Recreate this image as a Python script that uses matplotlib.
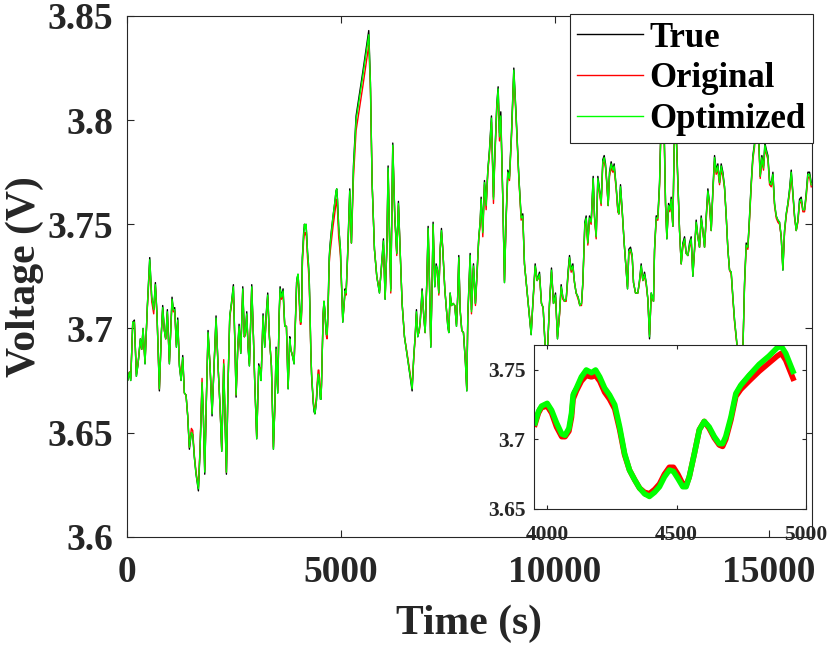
import matplotlib
matplotlib.use("Agg")
import matplotlib.pyplot as plt

plt.rcParams['font.family'] = ['Liberation Serif', 'DejaVu Serif']
plt.rcParams['font.weight'] = 'bold'

# time axis (s) and the three voltage traces (V)
time_s = [
    0, 23, 62, 93, 140, 178, 225, 264, 318, 350,
    381, 427, 482, 537, 583, 630, 669, 708, 762, 809,
    840, 879, 910, 949, 996, 1058, 1089, 1121, 1160, 1191,
    1230, 1269, 1308, 1346, 1385, 1424, 1463, 1510, 1541, 1580,
    1619, 1674, 1713, 1759, 1790, 1822, 1860, 1899, 1946, 1993,
    2040, 2086, 2133, 2180, 2219, 2265, 2297, 2328, 2367, 2406,
    2445, 2491, 2530, 2554, 2593, 2624, 2663, 2710, 2748, 2772,
    2803, 2834, 2865, 2920, 2959, 2990, 3036, 3083, 3114, 3138,
    3184, 3223, 3254, 3293, 3332, 3379, 3426, 3465, 3488, 3527,
    3558, 3582, 3613, 3652, 3691, 3730, 3769, 3808, 3831, 3870,
    3909, 3953, 3966, 3978, 4000, 4017, 4036, 4056, 4069, 4084,
    4094, 4100, 4113, 4132, 4151, 4171, 4187, 4203, 4222, 4241,
    4261, 4280, 4299, 4318, 4338, 4357, 4376, 4395, 4415, 4434,
    4453, 4472, 4488, 4505, 4524, 4537, 4549, 4569, 4588, 4607,
    4626, 4646, 4665, 4678, 4690, 4710, 4729, 4748, 4780, 4819,
    4857, 4889, 4905, 4922, 4937, 4950, 4991, 5046, 5100, 5124,
    5163, 5209, 5248, 5295, 5357, 5513, 5653, 5692, 5731, 5786,
    5840, 5903, 5942, 5996, 6035, 6074, 6105, 6136, 6167, 6214,
    6261, 6307, 6346, 6385, 6432, 6487, 6564, 6666, 6705, 6736,
    6767, 6798, 6829, 6853, 6899, 6938, 6970, 7008, 7040, 7071,
    7102, 7133, 7156, 7195, 7227, 7258, 7289, 7320, 7351, 7382,
    7429, 7468, 7499, 7522, 7554, 7585, 7624, 7663, 7702, 7733,
    7756, 7787, 7826, 7865, 7912, 7943, 7966, 8021, 8052, 8099,
    8145, 8184, 8223, 8255, 8278, 8317, 8356, 8395, 8434, 8473,
    8519, 8566, 8597, 8644, 8675, 8706, 8737, 8784, 8823, 8862,
    8901, 8940, 8987, 9041, 9096, 9158, 9212, 9251, 9290, 9368,
    9446, 9485, 9540, 9586, 9641, 9687, 9726, 9781, 9820, 9874,
    9921, 9968, 10015, 10061, 10108, 10147, 10186, 10225, 10264, 10311,
    10342, 10381, 10420, 10459, 10497, 10544, 10583, 10622, 10653, 10700,
    10731, 10770, 10809, 10848, 10895, 10926, 10965, 11004, 11043, 11081,
    11120, 11152, 11183, 11214, 11245, 11276, 11315, 11354, 11385, 11432,
    11471, 11494, 11533, 11572, 11619, 11666, 11697, 11728, 11767, 11806,
    11837, 11884, 11938, 11977, 12016, 12055, 12094, 12133, 12172, 12211,
    12250, 12304, 12328, 12367, 12406, 12445, 12483, 12522, 12554, 12585,
    12616, 12655, 12686, 12717, 12756, 12787, 12818, 12849, 12873, 12912,
    12951, 12990, 13029, 13068, 13107, 13145, 13184, 13223, 13262, 13301,
    13340, 13379, 13418, 13457, 13496, 13535, 13574, 13613, 13652, 13691,
    13730, 13768, 13807, 13846, 13885, 13924, 13963, 14002, 14041, 14080,
    14119, 14158, 14197, 14236, 14275, 14314, 14353, 14391, 14430, 14469,
    14508, 14547, 14586, 14625, 14664, 14703, 14742, 14796, 14835, 14874,
    14906, 14937, 14976, 15015, 15054, 15093, 15131, 15170, 15209, 15248,
    15287, 15326, 15365, 15404, 15443, 15482, 15521, 15560, 15599, 15638,
    15677, 15715, 15754, 15793, 15832, 15871, 15910, 15949, 15988,
]

v_true = [
    3.683, 3.675, 3.679, 3.675, 3.703, 3.704, 3.677, 3.683, 3.695, 3.690,
    3.700, 3.683, 3.711, 3.734, 3.715, 3.709, 3.722, 3.706, 3.670, 3.698,
    3.711, 3.699, 3.695, 3.709, 3.683, 3.715, 3.709, 3.710, 3.691, 3.705,
    3.682, 3.675, 3.687, 3.669, 3.668, 3.658, 3.642, 3.650, 3.649, 3.638,
    3.630, 3.622, 3.642, 3.673, 3.658, 3.630, 3.666, 3.699, 3.682, 3.658,
    3.682, 3.706, 3.682, 3.662, 3.641, 3.682, 3.656, 3.630, 3.674, 3.706,
    3.712, 3.721, 3.690, 3.667, 3.691, 3.702, 3.688, 3.720, 3.696, 3.698,
    3.708, 3.691, 3.682, 3.721, 3.696, 3.674, 3.647, 3.683, 3.680, 3.675,
    3.707, 3.691, 3.706, 3.717, 3.696, 3.682, 3.642, 3.666, 3.691, 3.669,
    3.706, 3.720, 3.715, 3.719, 3.701, 3.701, 3.671, 3.696, 3.690, 3.687,
    3.683, 3.714, 3.722, 3.724, 3.726, 3.721, 3.712, 3.704, 3.703, 3.709,
    3.723, 3.734, 3.738, 3.746, 3.750, 3.748, 3.750, 3.745, 3.737, 3.732,
    3.725, 3.709, 3.690, 3.677, 3.670, 3.664, 3.660, 3.659, 3.662, 3.666,
    3.673, 3.678, 3.677, 3.672, 3.666, 3.666, 3.673, 3.690, 3.707, 3.713,
    3.709, 3.702, 3.697, 3.697, 3.702, 3.717, 3.734, 3.740, 3.747, 3.754,
    3.760, 3.766, 3.767, 3.762, 3.755, 3.749, 3.738, 3.703, 3.719, 3.717,
    3.738, 3.767, 3.741, 3.778, 3.802, 3.823, 3.843, 3.818, 3.770, 3.738,
    3.725, 3.717, 3.728, 3.743, 3.714, 3.738, 3.778, 3.746, 3.719, 3.789,
    3.754, 3.736, 3.761, 3.738, 3.712, 3.696, 3.685, 3.670, 3.687, 3.696,
    3.709, 3.696, 3.699, 3.703, 3.719, 3.706, 3.698, 3.722, 3.749, 3.722,
    3.691, 3.722, 3.751, 3.720, 3.731, 3.728, 3.717, 3.738, 3.748, 3.738,
    3.719, 3.709, 3.701, 3.698, 3.717, 3.711, 3.712, 3.711, 3.701, 3.717,
    3.735, 3.709, 3.699, 3.698, 3.683, 3.670, 3.706, 3.736, 3.709, 3.731,
    3.712, 3.728, 3.744, 3.751, 3.763, 3.747, 3.771, 3.760, 3.776, 3.786,
    3.802, 3.763, 3.783, 3.808, 3.816, 3.794, 3.804, 3.762, 3.722, 3.754,
    3.776, 3.773, 3.794, 3.825, 3.802, 3.773, 3.754, 3.755, 3.731, 3.714,
    3.697, 3.712, 3.731, 3.723, 3.727, 3.712, 3.710, 3.688, 3.685, 3.712,
    3.729, 3.712, 3.717, 3.695, 3.707, 3.721, 3.715, 3.713, 3.714, 3.728,
    3.735, 3.728, 3.731, 3.722, 3.717, 3.715, 3.711, 3.712, 3.722, 3.751,
    3.754, 3.741, 3.754, 3.751, 3.773, 3.754, 3.744, 3.773, 3.767, 3.760,
    3.781, 3.783, 3.779, 3.770, 3.759, 3.775, 3.780, 3.776, 3.779, 3.768,
    3.757, 3.755, 3.769, 3.757, 3.741, 3.728, 3.719, 3.738, 3.739, 3.735,
    3.722, 3.717, 3.717, 3.723, 3.731, 3.723, 3.727, 3.722, 3.714, 3.695,
    3.717, 3.713, 3.738, 3.754, 3.754, 3.770, 3.802, 3.813, 3.794, 3.760,
    3.743, 3.760, 3.757, 3.763, 3.749, 3.789, 3.805, 3.786, 3.770, 3.747,
    3.731, 3.741, 3.744, 3.736, 3.735, 3.741, 3.744, 3.725, 3.738, 3.752,
    3.744, 3.739, 3.754, 3.747, 3.739, 3.754, 3.767, 3.760, 3.747, 3.767,
    3.783, 3.776, 3.779, 3.770, 3.779, 3.775, 3.768, 3.754, 3.738, 3.728,
    3.727, 3.715, 3.704, 3.696, 3.688, 3.683, 3.690, 3.688, 3.722, 3.741,
    3.739, 3.754, 3.770, 3.783, 3.789, 3.810, 3.802, 3.773, 3.783, 3.778,
    3.789, 3.786, 3.783, 3.771, 3.769, 3.775, 3.760, 3.754, 3.752, 3.751,
    3.744, 3.728, 3.747, 3.755, 3.760, 3.767, 3.776, 3.765, 3.754, 3.747,
    3.752, 3.762, 3.763, 3.757, 3.757, 3.765, 3.775, 3.775, 3.770,
]

v_orig = [
    3.683, 3.676, 3.679, 3.676, 3.702, 3.703, 3.678, 3.683, 3.694, 3.690,
    3.699, 3.684, 3.710, 3.731, 3.713, 3.707, 3.720, 3.706, 3.671, 3.698,
    3.709, 3.699, 3.695, 3.707, 3.684, 3.713, 3.708, 3.708, 3.692, 3.703,
    3.683, 3.676, 3.685, 3.669, 3.668, 3.658, 3.643, 3.652, 3.651, 3.639,
    3.631, 3.624, 3.643, 3.676, 3.658, 3.632, 3.666, 3.697, 3.682, 3.660,
    3.682, 3.704, 3.682, 3.662, 3.642, 3.685, 3.656, 3.631, 3.674, 3.705,
    3.711, 3.718, 3.690, 3.668, 3.690, 3.700, 3.689, 3.718, 3.696, 3.697,
    3.706, 3.692, 3.683, 3.719, 3.696, 3.674, 3.648, 3.681, 3.681, 3.676,
    3.705, 3.692, 3.704, 3.715, 3.696, 3.682, 3.643, 3.666, 3.689, 3.670,
    3.705, 3.717, 3.714, 3.716, 3.701, 3.701, 3.672, 3.694, 3.690, 3.687,
    3.684, 3.711, 3.719, 3.723, 3.724, 3.719, 3.709, 3.702, 3.702, 3.706,
    3.716, 3.729, 3.735, 3.742, 3.746, 3.745, 3.746, 3.742, 3.734, 3.729,
    3.722, 3.707, 3.689, 3.678, 3.671, 3.665, 3.662, 3.661, 3.664, 3.668,
    3.675, 3.680, 3.680, 3.675, 3.668, 3.667, 3.673, 3.690, 3.707, 3.713,
    3.708, 3.701, 3.696, 3.695, 3.700, 3.714, 3.731, 3.736, 3.742, 3.749,
    3.755, 3.760, 3.762, 3.757, 3.750, 3.744, 3.735, 3.704, 3.717, 3.716,
    3.736, 3.764, 3.741, 3.772, 3.795, 3.816, 3.836, 3.815, 3.770, 3.738,
    3.725, 3.718, 3.727, 3.740, 3.715, 3.737, 3.775, 3.745, 3.717, 3.787,
    3.753, 3.735, 3.759, 3.738, 3.712, 3.696, 3.686, 3.672, 3.686, 3.695,
    3.707, 3.697, 3.698, 3.702, 3.717, 3.706, 3.698, 3.721, 3.747, 3.722,
    3.692, 3.722, 3.749, 3.721, 3.729, 3.728, 3.716, 3.737, 3.746, 3.738,
    3.719, 3.709, 3.702, 3.699, 3.716, 3.711, 3.712, 3.711, 3.702, 3.716,
    3.733, 3.709, 3.699, 3.698, 3.684, 3.671, 3.705, 3.733, 3.707, 3.729,
    3.711, 3.726, 3.743, 3.750, 3.760, 3.744, 3.769, 3.757, 3.775, 3.784,
    3.799, 3.760, 3.781, 3.805, 3.813, 3.790, 3.800, 3.762, 3.723, 3.752,
    3.774, 3.771, 3.792, 3.822, 3.800, 3.772, 3.752, 3.753, 3.731, 3.714,
    3.698, 3.711, 3.729, 3.723, 3.725, 3.712, 3.710, 3.689, 3.686, 3.711,
    3.727, 3.712, 3.715, 3.696, 3.706, 3.719, 3.714, 3.713, 3.713, 3.726,
    3.733, 3.727, 3.729, 3.722, 3.717, 3.714, 3.711, 3.711, 3.721, 3.749,
    3.752, 3.740, 3.752, 3.750, 3.771, 3.753, 3.743, 3.770, 3.765, 3.759,
    3.779, 3.780, 3.777, 3.769, 3.759, 3.773, 3.777, 3.775, 3.776, 3.767,
    3.756, 3.755, 3.766, 3.756, 3.741, 3.728, 3.720, 3.736, 3.737, 3.734,
    3.722, 3.717, 3.717, 3.722, 3.729, 3.723, 3.725, 3.721, 3.714, 3.697,
    3.716, 3.713, 3.737, 3.752, 3.752, 3.768, 3.799, 3.809, 3.791, 3.759,
    3.744, 3.758, 3.756, 3.761, 3.749, 3.786, 3.801, 3.784, 3.769, 3.747,
    3.731, 3.739, 3.742, 3.736, 3.735, 3.739, 3.742, 3.726, 3.737, 3.750,
    3.744, 3.739, 3.752, 3.747, 3.739, 3.752, 3.765, 3.759, 3.747, 3.765,
    3.780, 3.774, 3.776, 3.769, 3.776, 3.773, 3.767, 3.754, 3.738, 3.728,
    3.726, 3.714, 3.703, 3.695, 3.688, 3.685, 3.691, 3.690, 3.720, 3.739,
    3.738, 3.752, 3.768, 3.781, 3.787, 3.806, 3.799, 3.772, 3.780, 3.776,
    3.786, 3.784, 3.781, 3.769, 3.768, 3.772, 3.759, 3.753, 3.751, 3.750,
    3.744, 3.729, 3.746, 3.754, 3.759, 3.765, 3.773, 3.764, 3.753, 3.747,
    3.751, 3.760, 3.761, 3.756, 3.756, 3.763, 3.772, 3.773, 3.768,
]

v_opt = [
    3.683, 3.675, 3.679, 3.675, 3.703, 3.703, 3.677, 3.683, 3.695, 3.690,
    3.700, 3.683, 3.711, 3.733, 3.715, 3.709, 3.721, 3.706, 3.671, 3.698,
    3.710, 3.699, 3.695, 3.708, 3.683, 3.714, 3.709, 3.709, 3.691, 3.704,
    3.682, 3.675, 3.686, 3.669, 3.668, 3.658, 3.643, 3.650, 3.649, 3.638,
    3.630, 3.623, 3.642, 3.674, 3.658, 3.631, 3.666, 3.698, 3.682, 3.659,
    3.682, 3.705, 3.682, 3.662, 3.641, 3.683, 3.656, 3.631, 3.674, 3.706,
    3.712, 3.720, 3.690, 3.668, 3.691, 3.701, 3.688, 3.719, 3.696, 3.698,
    3.707, 3.691, 3.682, 3.720, 3.696, 3.674, 3.647, 3.682, 3.680, 3.675,
    3.706, 3.691, 3.705, 3.716, 3.696, 3.682, 3.642, 3.666, 3.690, 3.669,
    3.706, 3.719, 3.715, 3.718, 3.701, 3.701, 3.671, 3.695, 3.690, 3.687,
    3.683, 3.712, 3.720, 3.724, 3.726, 3.721, 3.712, 3.704, 3.703, 3.708,
    3.719, 3.732, 3.737, 3.745, 3.750, 3.748, 3.750, 3.745, 3.737, 3.732,
    3.725, 3.709, 3.690, 3.678, 3.671, 3.665, 3.661, 3.659, 3.662, 3.666,
    3.673, 3.678, 3.677, 3.672, 3.666, 3.666, 3.673, 3.690, 3.707, 3.713,
    3.709, 3.702, 3.697, 3.697, 3.702, 3.716, 3.733, 3.739, 3.746, 3.754,
    3.760, 3.766, 3.767, 3.762, 3.755, 3.749, 3.738, 3.703, 3.718, 3.717,
    3.737, 3.766, 3.741, 3.776, 3.800, 3.821, 3.841, 3.817, 3.770, 3.738,
    3.725, 3.717, 3.728, 3.742, 3.714, 3.738, 3.777, 3.746, 3.718, 3.788,
    3.754, 3.736, 3.760, 3.738, 3.712, 3.696, 3.685, 3.671, 3.687, 3.696,
    3.708, 3.696, 3.699, 3.703, 3.718, 3.706, 3.698, 3.722, 3.748, 3.722,
    3.691, 3.722, 3.750, 3.720, 3.730, 3.728, 3.717, 3.738, 3.747, 3.738,
    3.719, 3.709, 3.701, 3.698, 3.717, 3.711, 3.712, 3.711, 3.701, 3.717,
    3.734, 3.709, 3.699, 3.698, 3.683, 3.670, 3.706, 3.735, 3.708, 3.730,
    3.712, 3.727, 3.744, 3.751, 3.762, 3.746, 3.770, 3.759, 3.776, 3.785,
    3.801, 3.762, 3.782, 3.807, 3.815, 3.792, 3.802, 3.762, 3.722, 3.753,
    3.775, 3.772, 3.793, 3.824, 3.801, 3.773, 3.753, 3.754, 3.731, 3.714,
    3.697, 3.712, 3.730, 3.723, 3.726, 3.712, 3.710, 3.688, 3.686, 3.712,
    3.728, 3.712, 3.716, 3.695, 3.707, 3.720, 3.715, 3.713, 3.714, 3.727,
    3.734, 3.728, 3.730, 3.722, 3.717, 3.715, 3.711, 3.712, 3.722, 3.750,
    3.753, 3.741, 3.753, 3.751, 3.772, 3.754, 3.744, 3.772, 3.766, 3.760,
    3.780, 3.782, 3.778, 3.770, 3.759, 3.774, 3.779, 3.776, 3.778, 3.768,
    3.757, 3.755, 3.768, 3.757, 3.741, 3.728, 3.719, 3.737, 3.738, 3.735,
    3.722, 3.717, 3.717, 3.723, 3.730, 3.723, 3.726, 3.722, 3.714, 3.696,
    3.717, 3.713, 3.738, 3.753, 3.753, 3.769, 3.801, 3.811, 3.793, 3.760,
    3.743, 3.759, 3.757, 3.762, 3.749, 3.788, 3.803, 3.785, 3.770, 3.747,
    3.731, 3.740, 3.743, 3.736, 3.735, 3.740, 3.743, 3.725, 3.738, 3.751,
    3.744, 3.739, 3.753, 3.747, 3.739, 3.753, 3.766, 3.760, 3.747, 3.766,
    3.782, 3.775, 3.778, 3.770, 3.778, 3.774, 3.768, 3.754, 3.738, 3.728,
    3.727, 3.715, 3.704, 3.696, 3.688, 3.684, 3.690, 3.689, 3.721, 3.740,
    3.739, 3.753, 3.769, 3.782, 3.788, 3.808, 3.801, 3.773, 3.782, 3.777,
    3.788, 3.785, 3.782, 3.770, 3.769, 3.774, 3.760, 3.754, 3.752, 3.751,
    3.744, 3.728, 3.747, 3.755, 3.760, 3.766, 3.775, 3.765, 3.754, 3.747,
    3.752, 3.761, 3.762, 3.757, 3.757, 3.764, 3.774, 3.774, 3.769,
]

series_labels = ['True', 'Original', 'Optimized']
series_colors = ['#000000', '#ff0000', '#00ff00']

main_xticks = [0, 5000, 10000, 15000]
main_yticks = [3.6, 3.65, 3.7, 3.75, 3.8, 3.85]
main_ytick_labels = ['3.6', '3.65', '3.7', '3.75', '3.8', '3.85']
inset_xticks = [4000, 4500, 5000]
inset_yticks = [3.65, 3.7, 3.75]
inset_ytick_labels = ['3.65', '3.7', '3.75']
zoom_window = (3950, 4950)   # time span re-plotted in the inset

axis_col = '#262626'

fig = plt.figure(figsize=(8.3, 6.45), dpi=100)

# main axes
ax = fig.add_axes([0.1527, 0.1679, 0.8253, 0.8073])
for y, lab, col in zip([v_true, v_orig, v_opt], series_labels, series_colors):
    ax.plot(time_s, y, color=col, lw=1.0, label=lab)
ax.set_xlim(0, 16000)
ax.set_ylim(3.6, 3.85)
ax.set_xticks(main_xticks)
ax.set_yticks(main_yticks)
ax.set_yticklabels(main_ytick_labels)
ax.tick_params(direction='in', top=True, right=True, length=5, width=0.8,
               labelsize=27, colors=axis_col)
ax.tick_params(axis='x', pad=13.5)
ax.tick_params(axis='y', pad=9.5)
for s in ax.spines.values():
    s.set_color(axis_col)
    s.set_linewidth(0.8)
ax.set_xlabel('Time (s)', fontsize=30, fontweight='bold', color=axis_col, labelpad=10)
ax.set_ylabel('Voltage (V)', fontsize=30, fontweight='bold', color=axis_col, labelpad=3)

leg = ax.legend(loc='upper right', bbox_to_anchor=(1.002, 1.004), borderaxespad=0,
                fontsize=25, fancybox=False, framealpha=1, edgecolor=axis_col,
                handlelength=1.9, handletextpad=0.17, labelspacing=0.22, borderpad=0.22)
leg.get_frame().set_linewidth(0.8)

# zoomed inset: the same traces over the selected time window only
idx = [i for i, t in enumerate(time_s) if zoom_window[0] <= t <= zoom_window[1]]
ins = fig.add_axes([0.6437, 0.2109, 0.3273, 0.2543])
ins.set_facecolor('white')
for y, col, w in zip([v_true, v_orig, v_opt], series_colors, [2.0, 4.0, 4.0]):
    ins.plot([time_s[i] for i in idx], [y[i] for i in idx], color=col, lw=w)
ins.set_xlim(3950, 5000)
ins.set_ylim(3.65, 3.768)
ins.set_xticks(inset_xticks)
ins.set_yticks(inset_yticks)
ins.set_yticklabels(inset_ytick_labels)
ins.tick_params(direction='in', top=True, right=True, length=3, width=0.8,
                labelsize=15.5, colors=axis_col)
ins.tick_params(axis='x', pad=11.5)
ins.tick_params(axis='y', pad=6.5)
for s in ins.spines.values():
    s.set_color(axis_col)
    s.set_linewidth(0.8)

fig.savefig('out.png', dpi=100)
